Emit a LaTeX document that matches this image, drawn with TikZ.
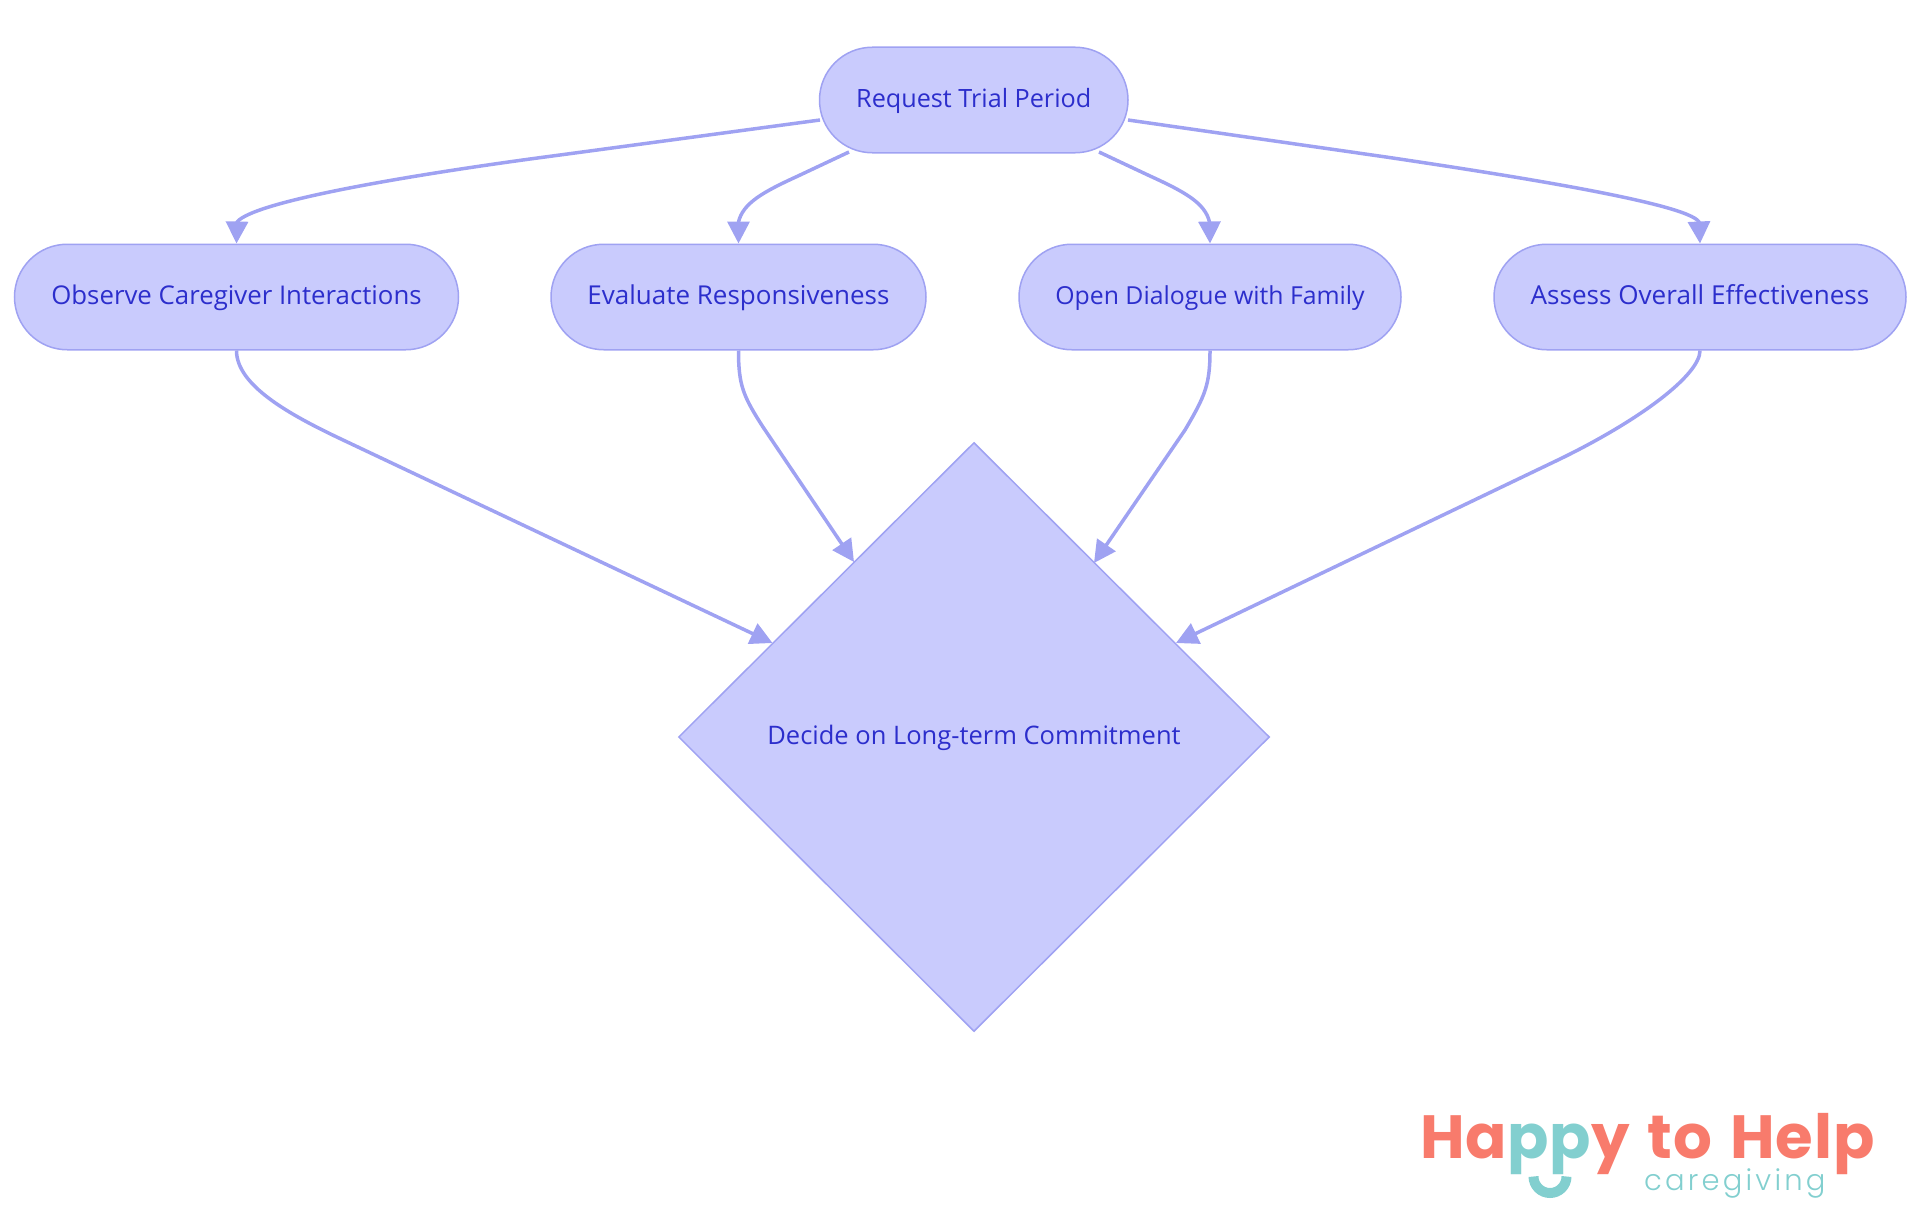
\documentclass[tikz,border=0pt]{standalone}
\usepackage{fontspec}
\setmainfont{Open Sans}
\newfontfamily\logofont{Poppins}[UprightFont=* Bold,LetterSpace=1.6,WordSpace=1.3]
\newfontfamily\logosub{Poppins}[UprightFont=* Light,LetterSpace=11]
\usetikzlibrary{shapes.misc,shapes.geometric,arrows.meta,calc}
\definecolor{nfill}{HTML}{C9CBFD}
\definecolor{nline}{HTML}{9FA2F2}
\definecolor{ntext}{HTML}{2C2ECC}
\definecolor{coral}{HTML}{F87B6C}
\definecolor{teal2}{HTML}{82CFCF}
\tikzset{
  x=1pt,y=-1pt,
  base/.style={draw=nline,fill=nfill,line width=1.5pt,text=ntext,inner sep=0pt,text height=20pt,text depth=6pt},
  txt/.style={font=\fontsize{#1}{30}\selectfont},
  pill/.style={base,rounded rectangle,minimum height=105.5pt,rounded rectangle arc length=180},
  choice/.style={base,diamond,aspect=1,minimum width=591pt,minimum height=589pt},
  link/.style={draw=nline,line width=3.5pt,line join=round,-{Triangle[length=22pt,width=22pt,fill=nline,color=nline]}},
}
\begin{document}
\begin{tikzpicture}
\useasboundingbox (0,0) rectangle (1920,1215);
\node[pill,txt=25.2,minimum width=308.5pt] (req) at (973.75,100) {Request Trial Period};
\node[pill,txt=25.8,minimum width=444pt] (obs) at (236.5,297) {Observe Caregiver Interactions};
\node[pill,txt=26,minimum width=375pt] (eva) at (738.5,297) {Evaluate Responsiveness};
\node[pill,txt=24.8,minimum width=382pt] (dia) at (1210,297) {Open Dialogue with Family};
\node[pill,txt=26.1,minimum width=412pt] (ass) at (1700,297) {Assess Overall Effectiveness};
\node[choice,txt=25.5] (dec) at (974,737) {Decide on Long-term Commitment};
\coordinate (r1) at (820,120);
\coordinate (r2) at (849,152);
\coordinate (r3) at (1099,152);
\coordinate (r4) at (1128,120);
\coordinate (d1) at (772.5,643);
\coordinate (d2) at (854,562);
\coordinate (d3) at (1094,563);
\coordinate (d4) at (1176,643);
\draw[link] (r1) -- (560,155) .. controls (430,172) and (255,200) .. (237,222) -- (obs.north);
\draw[link] (r2) -- (798,176) .. controls (763,192) and (743,203) .. (738.5,222) -- (eva.north);
\draw[link] (r3) -- (1150,176) .. controls (1185,192) and (1205,203) .. (1209.5,222) -- (dia.north);
\draw[link] (r4) -- (1386,157) .. controls (1500,174) and (1688,203) .. (1699,222) -- (ass.north);
\draw[link] (obs.south) .. controls (236.5,385) and (288,414) .. (342,439.5) -- (d1);
\draw[link] (eva.south) .. controls (738.5,385) and (743,396) .. (763,427) -- (d2);
\draw[link] (dia.south) .. controls (1210,385) and (1205,396) .. (1185,430) -- (d3);
\draw[link] (ass.south) .. controls (1700,375) and (1640,420) .. (1560,459) -- (d4);
\node[inner sep=0pt,anchor=base west,text=coral,text depth=0pt,font=\logofont\fontsize{61}{61}\selectfont] (logo) at (1420,1158) {Ha\textcolor{teal2}{pp}y to Help};
\node[inner sep=0pt,anchor=base west,text=teal2,font=\logosub\fontsize{29}{29}\selectfont] (sub) at (1644,1190) {caregiving};
\coordinate (smile) at (1550,1176.5);
\draw[teal2,line width=10pt] ($(smile)+(-16.5,0)$) arc[start angle=180,end angle=360,radius=16.5pt];
\end{tikzpicture}
\end{document}
